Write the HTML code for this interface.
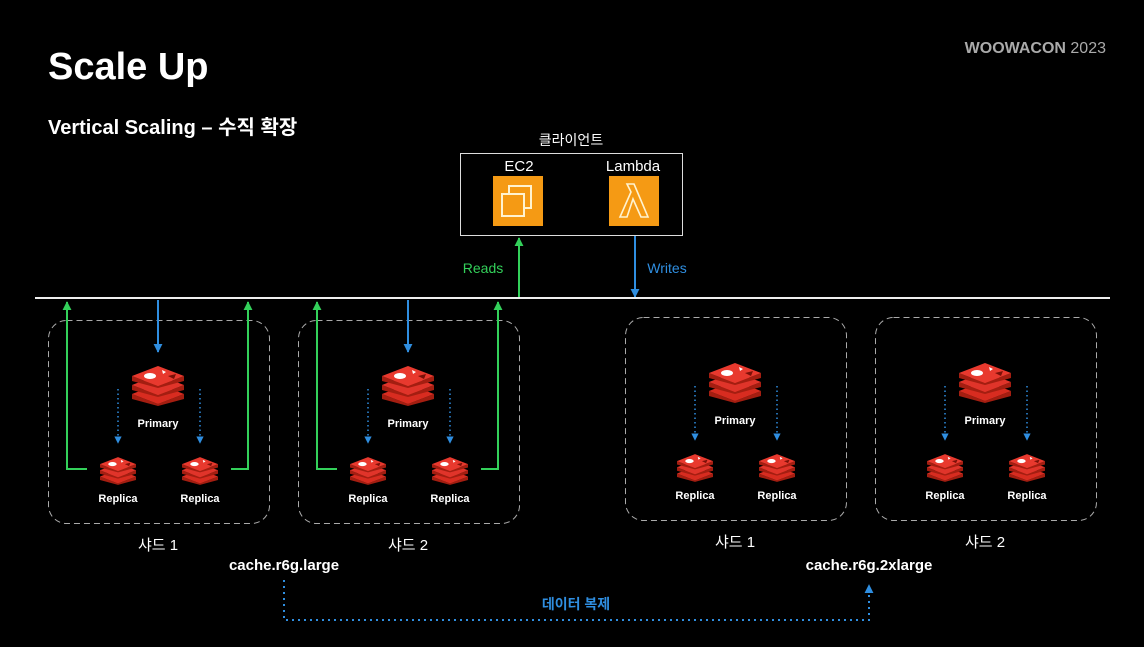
<!DOCTYPE html>
<html><head><meta charset="utf-8"><style>
html,body{margin:0;padding:0;background:#000;}
body{width:1144px;height:642px;overflow:hidden;font-family:"Liberation Sans","Noto Sans CJK KR",sans-serif;}
</style></head><body>
<svg width="1144" height="642" viewBox="0 0 1144 642" xmlns="http://www.w3.org/2000/svg" font-family="Liberation Sans, Noto Sans CJK KR, sans-serif">
<defs>
<symbol id="redis" viewBox="0 0 52 40">
  <polygon points="0,28 26,38 52,28 52,33 26,40 0,33" fill="#a41e11"/>
  <polygon points="0,28 26,18 52,28 26,38" fill="#d82c20"/>
  <polygon points="0,19 26,29 52,19 52,24 26,31 0,24" fill="#a41e11"/>
  <polygon points="0,19 26,9 52,19 26,29" fill="#e0342a"/>
  <polygon points="0,10 26,20 52,10 52,15 26,22 0,15" fill="#a41e11"/>
  <polygon points="0,10 26,0 52,10 26,20" fill="#e8392e"/>
  <ellipse cx="18" cy="10" rx="6" ry="3" fill="#fff"/>
  <polygon points="30,4 34,6 31,8" fill="#fff"/>
  <polygon points="36,10 44,8 42,13" fill="#7a1008"/>
</symbol>
<marker id="ag" viewBox="0 0 10 10" refX="9" refY="5" markerWidth="4.5" markerHeight="4.5" orient="auto"><path d="M0,0 L10,5 L0,10z" fill="#33d05a"/></marker>
<marker id="abl" viewBox="0 0 10 10" refX="9" refY="5" markerWidth="4.5" markerHeight="4.5" orient="auto"><path d="M0,0 L10,5 L0,10z" fill="#2f8ee0"/></marker>
<marker id="abs" viewBox="0 0 10 10" refX="9" refY="5" markerWidth="5" markerHeight="5" orient="auto"><path d="M0,0 L10,5 L0,10z" fill="#2f8ee0"/></marker>
</defs>

<text x="48" y="79" fill="#fff" font-size="38" font-weight="bold">Scale Up</text>
<text x="48" y="134" fill="#fff" font-size="20" font-weight="bold">Vertical Scaling – 수직 확장</text>
<text x="1106" y="53" fill="#aaa" font-size="16" font-weight="bold" text-anchor="end">WOOWACON <tspan font-weight="normal">2023</tspan></text>

<text x="571" y="145" fill="#fff" font-size="14" text-anchor="middle">클라이언트</text>
<rect x="460.5" y="153.5" width="222" height="82" fill="none" stroke="#ddd" stroke-width="1"/>
<text x="519" y="171" fill="#fff" font-size="15" text-anchor="middle">EC2</text>
<text x="633" y="171" fill="#fff" font-size="15" text-anchor="middle">Lambda</text>
<rect x="493" y="176" width="50" height="50" fill="#f59a14"/>
<rect x="509" y="186" width="22" height="22" fill="none" stroke="#fff3d0" stroke-width="2"/>
<rect x="502" y="194" width="22" height="22" fill="#f59a14" stroke="#fff3d0" stroke-width="2"/>
<rect x="609" y="176" width="50" height="50" fill="#f59a14"/>
<path d="M620,217 L631,192 L627,184 L634,184 L648,217 L641,217 L633,199 L627,217 Z" fill="none" stroke="#fff3d0" stroke-width="1.6"/>

<line x1="519" y1="298" x2="519" y2="238" stroke="#33d05a" stroke-width="2" marker-end="url(#ag)"/>
<text x="483" y="273" fill="#33d05a" font-size="14" text-anchor="middle">Reads</text>
<line x1="635" y1="236" x2="635" y2="297" stroke="#2f8ee0" stroke-width="2" marker-end="url(#abl)"/>
<text x="667" y="273" fill="#2f8ee0" font-size="14" text-anchor="middle">Writes</text>

<line x1="35" y1="298" x2="1110" y2="298" stroke="#eee" stroke-width="2"/>

<g>
<rect x="48.5" y="320.5" width="221" height="203" rx="18" fill="none" stroke="#aaa" stroke-width="1" stroke-dasharray="6,4"/>
<polyline points="87,469 67,469 67,302" fill="none" stroke="#33d05a" stroke-width="2" marker-end="url(#ag)"/>
<polyline points="231,469 248,469 248,302" fill="none" stroke="#33d05a" stroke-width="2" marker-end="url(#ag)"/>
<line x1="158" y1="300" x2="158" y2="352" stroke="#2f8ee0" stroke-width="2" marker-end="url(#abl)"/>
<use href="#redis" x="132" y="366" width="52" height="40"/>
<text x="158" y="427" fill="#fff" font-size="11" font-weight="bold" text-anchor="middle">Primary</text>
<line x1="118" y1="389" x2="118" y2="443" stroke="#2f8ee0" stroke-width="1.5" stroke-dasharray="1.5,3" marker-end="url(#abs)"/>
<line x1="200" y1="389" x2="200" y2="443" stroke="#2f8ee0" stroke-width="1.5" stroke-dasharray="1.5,3" marker-end="url(#abs)"/>
<use href="#redis" x="100" y="456" width="36" height="30"/>
<use href="#redis" x="182" y="456" width="36" height="30"/>
<text x="118" y="502" fill="#fff" font-size="11" font-weight="bold" text-anchor="middle">Replica</text>
<text x="200" y="502" fill="#fff" font-size="11" font-weight="bold" text-anchor="middle">Replica</text>
<text x="158" y="550" fill="#fff" font-size="15" text-anchor="middle">샤드 1</text>
</g>
<g transform="translate(250,0)">
<rect x="48.5" y="320.5" width="221" height="203" rx="18" fill="none" stroke="#aaa" stroke-width="1" stroke-dasharray="6,4"/>
<polyline points="87,469 67,469 67,302" fill="none" stroke="#33d05a" stroke-width="2" marker-end="url(#ag)"/>
<polyline points="231,469 248,469 248,302" fill="none" stroke="#33d05a" stroke-width="2" marker-end="url(#ag)"/>
<line x1="158" y1="300" x2="158" y2="352" stroke="#2f8ee0" stroke-width="2" marker-end="url(#abl)"/>
<use href="#redis" x="132" y="366" width="52" height="40"/>
<text x="158" y="427" fill="#fff" font-size="11" font-weight="bold" text-anchor="middle">Primary</text>
<line x1="118" y1="389" x2="118" y2="443" stroke="#2f8ee0" stroke-width="1.5" stroke-dasharray="1.5,3" marker-end="url(#abs)"/>
<line x1="200" y1="389" x2="200" y2="443" stroke="#2f8ee0" stroke-width="1.5" stroke-dasharray="1.5,3" marker-end="url(#abs)"/>
<use href="#redis" x="100" y="456" width="36" height="30"/>
<use href="#redis" x="182" y="456" width="36" height="30"/>
<text x="118" y="502" fill="#fff" font-size="11" font-weight="bold" text-anchor="middle">Replica</text>
<text x="200" y="502" fill="#fff" font-size="11" font-weight="bold" text-anchor="middle">Replica</text>
<text x="158" y="550" fill="#fff" font-size="15" text-anchor="middle">샤드 2</text>
</g>

<g transform="translate(577,-3)">
<rect x="48.5" y="320.5" width="221" height="203" rx="18" fill="none" stroke="#aaa" stroke-width="1" stroke-dasharray="6,4"/>
<use href="#redis" x="132" y="366" width="52" height="40"/>
<text x="158" y="427" fill="#fff" font-size="11" font-weight="bold" text-anchor="middle">Primary</text>
<line x1="118" y1="389" x2="118" y2="443" stroke="#2f8ee0" stroke-width="1.5" stroke-dasharray="1.5,3" marker-end="url(#abs)"/>
<line x1="200" y1="389" x2="200" y2="443" stroke="#2f8ee0" stroke-width="1.5" stroke-dasharray="1.5,3" marker-end="url(#abs)"/>
<use href="#redis" x="100" y="456" width="36" height="30"/>
<use href="#redis" x="182" y="456" width="36" height="30"/>
<text x="118" y="502" fill="#fff" font-size="11" font-weight="bold" text-anchor="middle">Replica</text>
<text x="200" y="502" fill="#fff" font-size="11" font-weight="bold" text-anchor="middle">Replica</text>
<text x="158" y="550" fill="#fff" font-size="15" text-anchor="middle">샤드 1</text>
</g>
<g transform="translate(827,-3)">
<rect x="48.5" y="320.5" width="221" height="203" rx="18" fill="none" stroke="#aaa" stroke-width="1" stroke-dasharray="6,4"/>
<use href="#redis" x="132" y="366" width="52" height="40"/>
<text x="158" y="427" fill="#fff" font-size="11" font-weight="bold" text-anchor="middle">Primary</text>
<line x1="118" y1="389" x2="118" y2="443" stroke="#2f8ee0" stroke-width="1.5" stroke-dasharray="1.5,3" marker-end="url(#abs)"/>
<line x1="200" y1="389" x2="200" y2="443" stroke="#2f8ee0" stroke-width="1.5" stroke-dasharray="1.5,3" marker-end="url(#abs)"/>
<use href="#redis" x="100" y="456" width="36" height="30"/>
<use href="#redis" x="182" y="456" width="36" height="30"/>
<text x="118" y="502" fill="#fff" font-size="11" font-weight="bold" text-anchor="middle">Replica</text>
<text x="200" y="502" fill="#fff" font-size="11" font-weight="bold" text-anchor="middle">Replica</text>
<text x="158" y="550" fill="#fff" font-size="15" text-anchor="middle">샤드 2</text>
</g>

<text x="284" y="570" fill="#fff" font-size="15" font-weight="bold" text-anchor="middle">cache.r6g.large</text>
<text x="869" y="570" fill="#fff" font-size="15" font-weight="bold" text-anchor="middle">cache.r6g.2xlarge</text>
<polyline points="284,580 284,620 869,620 869,585" fill="none" stroke="#2f8ee0" stroke-width="2" stroke-dasharray="2,4" marker-end="url(#abl)"/>
<text x="576" y="609" fill="#2f8ee0" font-size="14" font-weight="bold" text-anchor="middle">데이터 복제</text>
</svg>
</body></html>
